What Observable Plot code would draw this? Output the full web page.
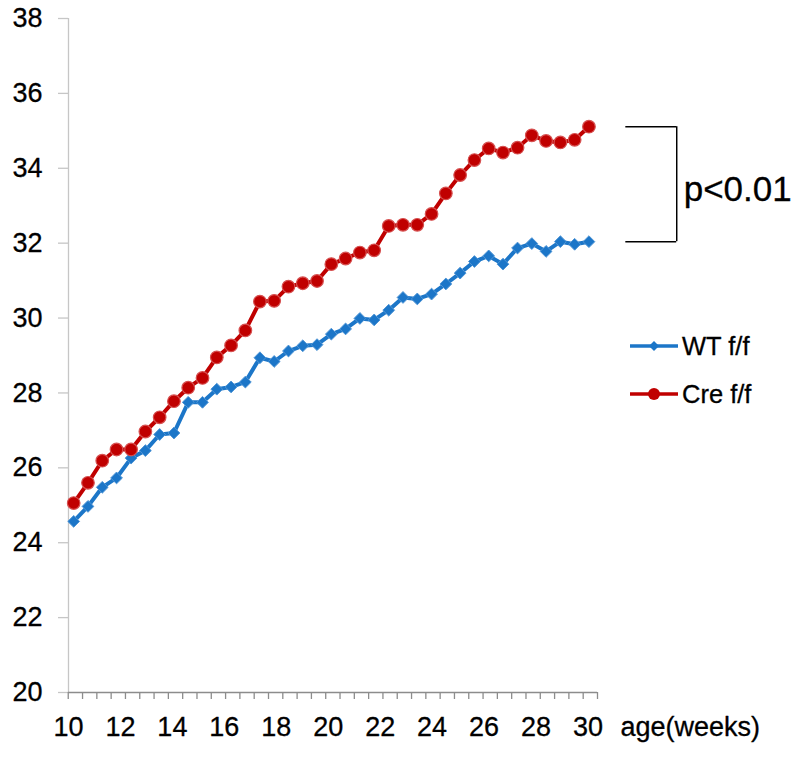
<!DOCTYPE html>
<html>
<head>
<meta charset="utf-8">
<script src="https://cdn.jsdelivr.net/npm/d3@7"></script>
<script src="https://cdn.jsdelivr.net/npm/@observablehq/plot@0.6"></script>
<style>
  html, body { margin: 0; padding: 0; background: #fff; }
  #wrap { position: relative; width: 799px; height: 757px; font-family: "Liberation Sans", Arial, sans-serif; }
  #legend { position: absolute; left: 628px; top: 334px; font-size: 25.5px; color: #000; }
  #legend .row { display: flex; align-items: center; height: 24px; margin-bottom: 24px; }
  #legend svg { margin-right: 2px; }
</style>
</head>
<body>
<div id="wrap"></div>
<script>
// ages (weeks) of each measurement
const ages = [10.20, 10.75, 11.30, 11.85, 12.41, 12.96, 13.51, 14.06, 14.61, 15.16,
              15.71, 16.26, 16.81, 17.37, 17.92, 18.47, 19.02, 19.57, 20.12, 20.67,
              21.22, 21.77, 22.33, 22.88, 23.43, 23.98, 24.53, 25.08, 25.63, 26.18,
              26.73, 27.29, 27.84, 28.39, 28.94, 29.49, 30.04];
const wtValues = [24.57, 24.97, 25.48, 25.73, 26.26, 26.46, 26.89, 26.93, 27.75, 27.75,
                  28.10, 28.16, 28.29, 28.94, 28.84, 29.12, 29.26, 29.29, 29.57, 29.71,
                  29.99, 29.95, 30.21, 30.55, 30.51, 30.64, 30.91, 31.20, 31.51, 31.66,
                  31.44, 31.87, 31.99, 31.78, 32.04, 31.97, 32.04];
const creValues = [25.06, 25.60, 26.19, 26.49, 26.49, 26.97, 27.35, 27.78, 28.14, 28.40,
                   28.95, 29.27, 29.67, 30.44, 30.46, 30.84, 30.93, 30.99, 31.44, 31.59,
                   31.75, 31.81, 32.46, 32.49, 32.49, 32.78, 33.33, 33.82, 34.22, 34.53,
                   34.42, 34.55, 34.88, 34.73, 34.69, 34.76, 35.11];
const seriesNames = ["WT f/f", "Cre f/f"];
const yTicks = [20, 22, 24, 26, 28, 30, 32, 34, 36, 38];
const xLabels = [10, 12, 14, 16, 18, 20, 22, 24, 26, 28, 30];
const xAxisTitle = "age(weeks)";
const pLabel = "p<0.01";

const BLUE = "#1c76c8", RED = "#c00000";
const wt = ages.map((a, i) => ({age: a, v: wtValues[i]}));
const cre = ages.map((a, i) => ({age: a, v: creValues[i]}));
// category boundaries of the (Excel-style) axis
const minorTicks = d3.range(38).map(k => 9.99 + k * 0.5508);
const xMax = minorTicks[minorTicks.length - 1];

const topV = creValues[creValues.length - 1], botV = wtValues[wtValues.length - 1];
const bx1 = 31.46, bx2 = 33.42;

const chart = Plot.plot({
  width: 799, height: 757,
  marginLeft: 68, marginRight: 799 - 597, marginTop: 18, marginBottom: 65,
  x: {domain: [10, xMax], axis: null, label: null},
  y: {domain: [20, 38], axis: null, label: null},
  style: {fontFamily: "'Liberation Sans', Arial, sans-serif", background: "#fff", overflow: "visible"},
  marks: [
    // y axis line + ticks
    Plot.ruleX([10], {y1: 20, y2: 38, stroke: "#c6c6c6", strokeWidth: 1.3}),
    Plot.axisY({ticks: yTicks, tickSize: 10, tickFormat: () => "", label: null, stroke: "#c6c6c6", strokeWidth: 1.3}),
    Plot.text(yTicks, {y: d => d, text: d => String(d), frameAnchor: "left", dx: -26, textAnchor: "end", fontSize: 27, fill: "#000", stroke: "#000", strokeWidth: 0.3}),
    // x axis line + minor ticks
    Plot.ruleY([20], {stroke: "#8c8c8c", strokeWidth: 1.3}),
    Plot.axisX({ticks: minorTicks, tickSize: 7, tickFormat: () => "", label: null, stroke: "#8c8c8c", strokeWidth: 1.3}),
    Plot.text(xLabels, {x: d => d, text: d => String(d), frameAnchor: "bottom", dy: 43, fontSize: 27, fill: "#000", stroke: "#000", strokeWidth: 0.3}),
    Plot.text([xAxisTitle], {frameAnchor: "bottom-right", dx: 23, dy: 43, textAnchor: "start", fontSize: 27, fill: "#000", stroke: "#000", strokeWidth: 0.3}),
    // series
    Plot.line(wt, {x: "age", y: "v", stroke: BLUE, strokeWidth: 4}),
    Plot.dot(wt, {x: "age", y: "v", symbol: "diamond2", r: 5.3, fill: BLUE, stroke: "#4f95d6", strokeWidth: 1}),
    Plot.line(cre, {x: "age", y: "v", stroke: RED, strokeWidth: 4}),
    Plot.dot(cre, {x: "age", y: "v", symbol: "circle", r: 6.3, fill: RED, stroke: "#d65050", strokeWidth: 1.2}),
    // significance bracket
    Plot.ruleY([topV, botV], {x1: bx1, x2: bx2, stroke: "#000", strokeWidth: 1.5}),
    Plot.ruleX([bx2], {y1: botV, y2: topV, stroke: "#000", strokeWidth: 1.5}),
    Plot.text([pLabel], {x: bx2, y: (topV + botV) / 2 - 0.15, dx: 7, textAnchor: "start", fontSize: 35, fill: "#000", stroke: "#000", strokeWidth: 0.3})
  ]
});

const wrap = document.getElementById("wrap");
wrap.appendChild(chart);

// legend (placed inside the plot area, right side)
const legend = document.createElement("div");
legend.id = "legend";
const specs = [
  {name: seriesNames[0], color: BLUE, sym: "diamond"},
  {name: seriesNames[1], color: RED, sym: "circle"}
];
for (const s of specs) {
  const row = document.createElement("div");
  row.className = "row";
  const marker = s.sym === "circle"
    ? `<circle cx="26" cy="12" r="6" fill="${s.color}"/>`
    : `<path d="M26,7 L31,12 L26,17 L21,12 Z" fill="${s.color}"/>`;
  row.innerHTML = `<svg width="52" height="24"><line x1="2" y1="12" x2="50" y2="12" stroke="${s.color}" stroke-width="3.5"/>${marker}</svg><span style="-webkit-text-stroke:0.3px #000">${s.name}</span>`;
  legend.appendChild(row);
}
wrap.appendChild(legend);
</script>
</body>
</html>
